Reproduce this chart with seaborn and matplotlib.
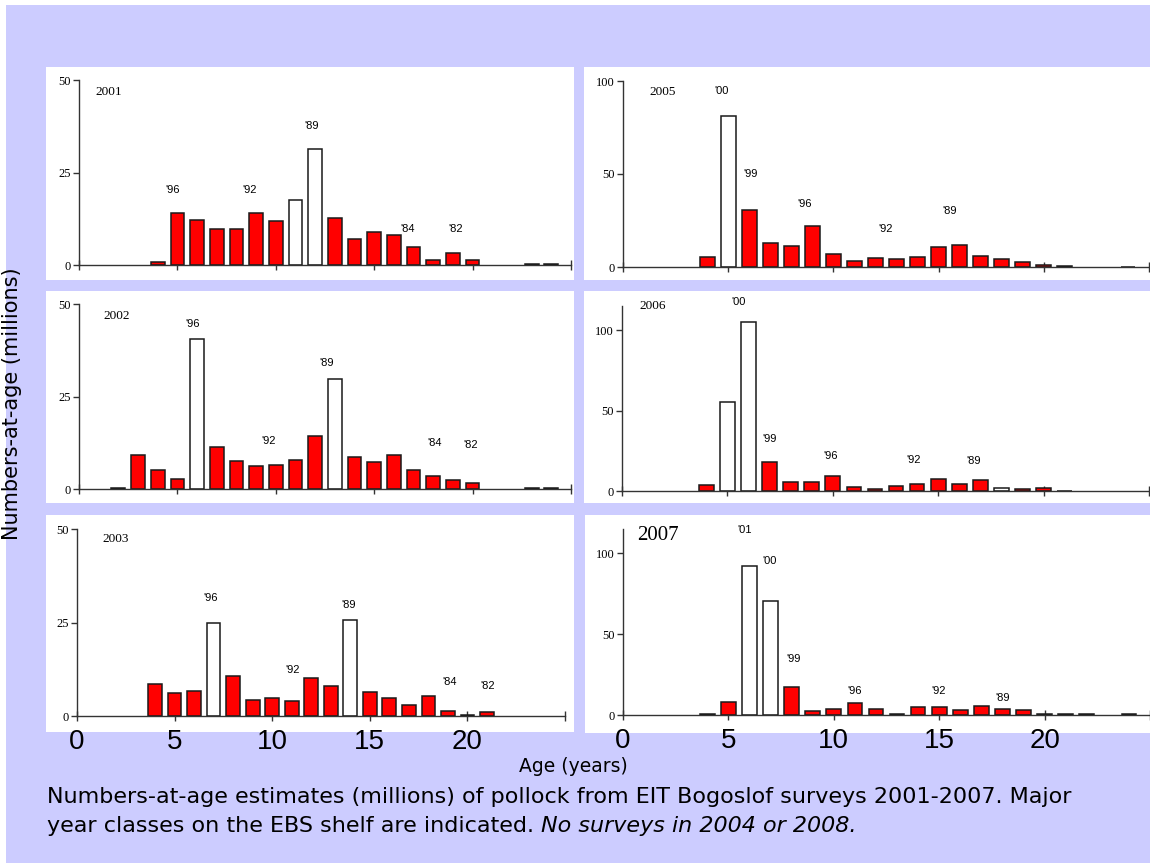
import numpy as np
import pandas as pd
import matplotlib.pyplot as plt
import seaborn as sns
from matplotlib.patches import Rectangle

# numbers-at-age (millions), open bars = major year classes
ages_2001 = [4, 5, 6, 7, 8, 9, 10, 11, 12, 13, 14, 15, 16, 17, 18, 19, 20, 23, 24]
n_2001 = [0.7, 14.0, 12.2, 9.6, 9.6, 14.0, 11.9, 17.6, 31.3, 12.6, 7.0, 8.9, 8.0, 5.0, 1.4, 3.3, 1.3, 0.4, 0.3]
open_2001 = [11, 12]
cls_2001 = ["'96", "'92", "'89", "'84", "'82"]
cls_x_2001 = [4.75, 8.65, 11.8, 16.7, 19.15]
cls_y_2001 = [20.3, 20.3, 37.7, 9.7, 9.7]

ages_2002 = [2, 3, 4, 5, 6, 7, 8, 9, 10, 11, 12, 13, 14, 15, 16, 17, 18, 19, 20, 23, 24]
n_2002 = [0.4, 9.3, 5.0, 2.6, 40.6, 11.3, 7.7, 6.3, 6.6, 7.9, 14.2, 29.6, 8.6, 7.2, 9.2, 5.0, 3.6, 2.3, 1.6, 0.3, 0.3]
open_2002 = [6, 13]
cls_2002 = ["'96", "'92", "'89", "'84", "'82"]
cls_x_2002 = [5.77, 9.66, 12.57, 18.05, 19.9]
cls_y_2002 = [44.5, 13.0, 34.1, 12.4, 11.9]

ages_2003 = [4, 5, 6, 7, 8, 9, 10, 11, 12, 13, 14, 15, 16, 17, 18, 19, 20, 21]
n_2003 = [8.6, 6.1, 6.6, 24.8, 10.6, 4.3, 4.7, 3.9, 10.2, 7.9, 25.8, 6.3, 4.7, 3.0, 5.3, 1.3, 0.4, 1.1]
open_2003 = [7, 14]
cls_2003 = ["'96", "'92", "'89", "'84", "'82"]
cls_x_2003 = [6.84, 11.05, 13.9, 19.09, 21.06]
cls_y_2003 = [31.5, 12.4, 29.7, 9.0, 8.0]

ages_2005 = [4, 5, 6, 7, 8, 9, 10, 11, 12, 13, 14, 15, 16, 17, 18, 19, 20, 21, 24]
n_2005 = [5.4, 81.0, 30.5, 12.7, 11.3, 22.1, 6.8, 3.4, 4.8, 4.1, 5.4, 10.6, 12.0, 6.1, 4.1, 2.7, 0.9, 0.3, 0.2]
open_2005 = [5, 21, 24]
cls_2005 = ["'00", "'99", "'96", "'92", "'89"]
cls_x_2005 = [4.67, 6.07, 8.61, 12.46, 15.52]
cls_y_2005 = [94.8, 50.1, 33.9, 20.3, 30.2]

ages_2006 = [4, 5, 6, 7, 8, 9, 10, 11, 12, 13, 14, 15, 16, 17, 18, 19, 20, 21]
n_2006 = [3.8, 55.6, 105.0, 17.8, 5.4, 5.4, 9.2, 2.3, 1.5, 3.1, 4.6, 7.7, 4.6, 6.9, 1.9, 1.0, 1.7, 0.2]
open_2006 = [5, 6, 18]
cls_2006 = ["'00", "'99", "'96", "'92", "'89"]
cls_x_2006 = [5.55, 6.99, 9.89, 13.84, 16.7]
cls_y_2006 = [117.4, 32.2, 21.5, 19.0, 18.6]

ages_2007 = [4, 5, 6, 7, 8, 9, 10, 11, 12, 13, 14, 15, 16, 17, 18, 19, 20, 21, 22, 24]
n_2007 = [0.8, 8.0, 92.4, 70.4, 17.2, 2.7, 3.9, 7.4, 3.9, 0.8, 5.1, 5.1, 2.9, 5.7, 3.7, 2.9, 0.8, 0.7, 0.7, 0.7]
open_2007 = [6, 7]
cls_2007 = ["'01", "'00", "'99", "'96", "'92", "'89"]
cls_x_2007 = [5.79, 6.95, 8.1, 11.0, 14.97, 18.0]
cls_y_2007 = [114.4, 95.3, 34.9, 14.6, 14.6, 10.7]

years = [2001, 2002, 2003, 2005, 2006, 2007]
year_x = [1.5, 1.9, 2.0, 1.9, 1.45, 1.65]
year_y = [46.8, 46.7, 47.4, 94, 115, 111]

sns.set_style('ticks')
plt.rcParams['font.family'] = ['DejaVu Sans']
for k in ['text.color', 'axes.labelcolor', 'xtick.color', 'ytick.color']:
    plt.rcParams[k] = 'black'

W, H = 1150, 863
fig = plt.figure(figsize=(W / 100, H / 100), dpi=100)
fig.patch.set_facecolor('white')

lav = '#ccccff'
fig.add_artist(Rectangle((6 / W, 0), 1, 1 - 5 / H, transform=fig.transFigure,
                         facecolor=lav, edgecolor='none', zorder=-10))
# white panel backgrounds (x0, y0, x1, y1 in pixels)
for x0, y0, x1, y1 in [(46, 67, 574, 280), (584, 67, 1150, 280),
                       (46, 291, 574, 503), (584, 291, 1150, 503),
                       (46, 515, 574, 732), (585, 515, 1150, 733)]:
    fig.add_artist(Rectangle((x0 / W, 1 - y1 / H), (x1 - x0) / W, (y1 - y0) / H,
                             transform=fig.transFigure, facecolor='white',
                             edgecolor='none', zorder=-5))


def px_axes(x0, x1, ytop, ybot):
    return fig.add_axes([x0 / W, 1 - ybot / H, (x1 - x0) / W, (ybot - ytop) / H])


# axes boxes in pixels: left, right, top (ymax), bottom (y=0)
boxes = [(79, 571, 80, 265), (79, 571, 304, 489), (77, 565, 529, 716),
         (623, 1149, 81, 267), (622, 1149, 306, 491), (623, 1150, 529, 715)]
ymaxs = [50, 50, 50, 100, 115, 115]
yticks = [[0, 25, 50], [0, 25, 50], [0, 25, 50], [0, 50, 100], [0, 50, 100], [0, 50, 100]]

data = {
    2001: (ages_2001, n_2001, open_2001, cls_2001, cls_x_2001, cls_y_2001),
    2002: (ages_2002, n_2002, open_2002, cls_2002, cls_x_2002, cls_y_2002),
    2003: (ages_2003, n_2003, open_2003, cls_2003, cls_x_2003, cls_y_2003),
    2005: (ages_2005, n_2005, open_2005, cls_2005, cls_x_2005, cls_y_2005),
    2006: (ages_2006, n_2006, open_2006, cls_2006, cls_x_2006, cls_y_2006),
    2007: (ages_2007, n_2007, open_2007, cls_2007, cls_x_2007, cls_y_2007),
}

for i, yr in enumerate(years):
    ages, vals, opn, cls, cx, cy = data[yr]
    ax = px_axes(*boxes[i])
    ax.set_facecolor('none')
    d = pd.DataFrame({'age': ages, 'n': vals})
    d['fill'] = np.where(d['age'].isin(opn), 'open', 'red')
    sns.barplot(data=d, x='age', y='n', hue='fill',
                palette={'red': '#ff0000', 'open': 'white'}, saturation=1,
                native_scale=True, dodge=False, width=0.7,
                edgecolor='#1a1a1a', linewidth=1.1, errorbar=None,
                legend=False, ax=ax)
    ax.set(xlabel='', ylabel='')
    ax.set_xlim(0, 25)
    ax.set_ylim(0, ymaxs[i])
    sns.despine(ax=ax)
    for s in ['left', 'bottom']:
        ax.spines[s].set_color('#333333')
        ax.spines[s].set_linewidth(1.0)
    ax.set_yticks(yticks[i])
    ax.set_yticklabels([str(t) for t in yticks[i]], family='Liberation Serif', fontsize=9)
    ax.tick_params(axis='y', direction='out', length=4, width=1, color='#333333', pad=2)
    ax.set_xticks([0, 5, 10, 15, 20, 25])
    if i in (2, 5):
        ax.set_xticklabels(['0', '5', '10', '15', '20', ''], fontsize=20,
                           family='Liberation Sans')
        ax.tick_params(axis='x', direction='inout', length=7, width=1,
                       color='#333333', pad=6)
    else:
        ax.set_xticklabels([])
        ax.tick_params(axis='x', direction='inout', length=7, width=1, color='#333333')

    for lab, x, y in zip(cls, cx, cy):
        ax.text(x, y, lab, ha='center', va='center', fontsize=8,
                family='Liberation Sans', clip_on=False)
    ax.text(year_x[i], year_y[i], str(yr), ha='center', va='center',
            family='Liberation Serif', fontsize=15 if yr == 2007 else 9.5, clip_on=False)

fig.text(12 / W, 1 - 404 / H, 'Numbers-at-age (millions)', rotation=90,
         ha='center', va='center', fontsize=15)
fig.text(573 / W, 1 - 766 / H, 'Age (years)', ha='center', va='center', fontsize=13.5)
fig.text(47 / W, 1 - 797 / H,
         'Numbers-at-age estimates (millions) of pollock from EIT Bogoslof surveys 2001-2007. Major',
         ha='left', va='center', fontsize=16)
t2 = fig.text(47 / W, 1 - 826 / H, 'year classes on the EBS shelf are indicated. ',
              ha='left', va='center', fontsize=16)
r = fig.canvas.get_renderer()
bb = t2.get_window_extent(renderer=r)
fig.text(bb.x1 / W, 1 - 826 / H, 'No surveys in 2004 or 2008.', ha='left', va='center',
         fontsize=16, style='italic')

fig.savefig('out.png', dpi=100)
